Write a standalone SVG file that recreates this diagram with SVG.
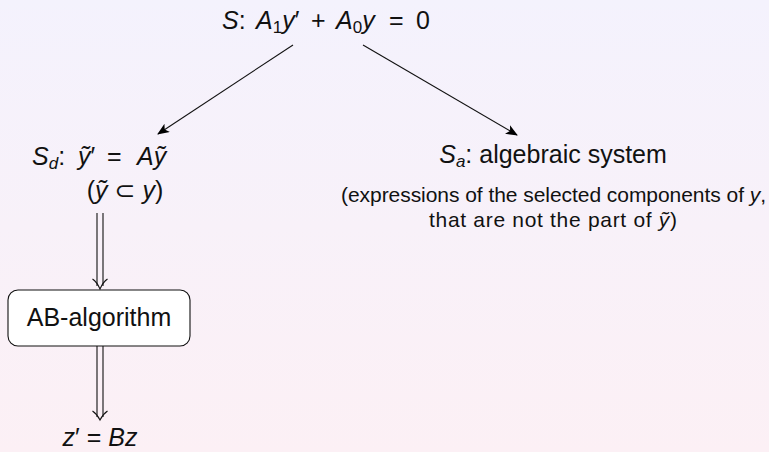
<svg xmlns="http://www.w3.org/2000/svg" width="769" height="452" viewBox="0 0 769 452">
<defs>
<linearGradient id="bg" x1="0" y1="0" x2="0" y2="1">
<stop offset="0" stop-color="#f4f2fd"/>
<stop offset="1" stop-color="#fcf0f5"/>
</linearGradient>
<marker id="stealth" viewBox="0 0 12 10" refX="11" refY="5" markerWidth="12" markerHeight="10" markerUnits="userSpaceOnUse" orient="auto">
<path d="M0,0 L12,5 L0,10 L3,5 Z" fill="#000"/>
</marker>
</defs>
<style>
text{font-family:"Liberation Sans",Arial,"DejaVu Sans",sans-serif;fill:#111}
.big{font-size:25px}
.small{font-size:21px}
.i{font-style:italic}
.sub{font-size:17px}
.line{stroke:#111;stroke-width:1.1;fill:none}
.box{fill:#fff;stroke:#111;stroke-width:1.1}
</style>
<rect x="0" y="0" width="769" height="452" fill="url(#bg)"/>
<g id="connectors">
<line class="line" x1="293" y1="45" x2="158" y2="134" marker-end="url(#stealth)"/>
<line class="line" x1="363" y1="45" x2="517" y2="135" marker-end="url(#stealth)"/>
<g id="dbl1">
<line class="line" x1="97" y1="213" x2="97" y2="286"/>
<line class="line" x1="103" y1="213" x2="103" y2="286"/>
<path class="line" d="M92.5,279 Q97,282 100,289 Q103,282 107.5,279"/>
</g>
<g id="dbl2">
<line class="line" x1="97" y1="346" x2="97" y2="417"/>
<line class="line" x1="103" y1="346" x2="103" y2="417"/>
<path class="line" d="M92.5,411 Q97,414 100,420 Q103,414 107.5,411"/>
</g>
</g>
<g id="nodeS">
<text class="big" x="222" y="29"><tspan class="i">S</tspan>:<tspan class="i" x="256">A</tspan><tspan class="sub" dy="4">1</tspan><tspan class="i" dy="-4">y</tspan>′<tspan x="311">+</tspan><tspan class="i" x="336">A</tspan><tspan class="sub" dy="4">0</tspan><tspan class="i" dy="-4">y</tspan><tspan x="389">=</tspan><tspan x="416">0</tspan></text>
</g>
<g id="nodeSd">
<text class="big" x="32" y="165"><tspan class="i">S</tspan><tspan class="sub i" dy="4">d</tspan><tspan dy="-4">:</tspan><tspan class="i" x="78">ỹ</tspan>′<tspan x="107">=</tspan><tspan class="i" x="137">A</tspan><tspan class="i">ỹ</tspan></text>
<text class="big" x="125" y="199" text-anchor="middle">(<tspan class="i">ỹ</tspan> ⊂ <tspan class="i">y</tspan>)</text>
</g>
<g id="nodeSa">
<text class="big" x="553" y="163" text-anchor="middle"><tspan class="i">S</tspan><tspan class="sub i" dy="4">a</tspan><tspan dy="-4">:  algebraic system</tspan></text>
<text class="small" x="341" y="202" textLength="425" lengthAdjust="spacing">(expressions of the selected components of <tspan class="i">y</tspan>,</text>
<text class="small" x="429" y="227" textLength="248" lengthAdjust="spacing">that are not the part of <tspan class="i">ỹ</tspan>)</text>
</g>
<g id="nodeAB">
<rect class="box" x="8" y="290" width="182" height="56" rx="10" ry="10"/>
<text class="big" x="99" y="326" text-anchor="middle">AB-algorithm</text>
</g>
<g id="nodeZ">
<text class="big" x="100" y="446" text-anchor="middle"><tspan class="i">z</tspan>′ = <tspan class="i">Bz</tspan></text>
</g>
</svg>
